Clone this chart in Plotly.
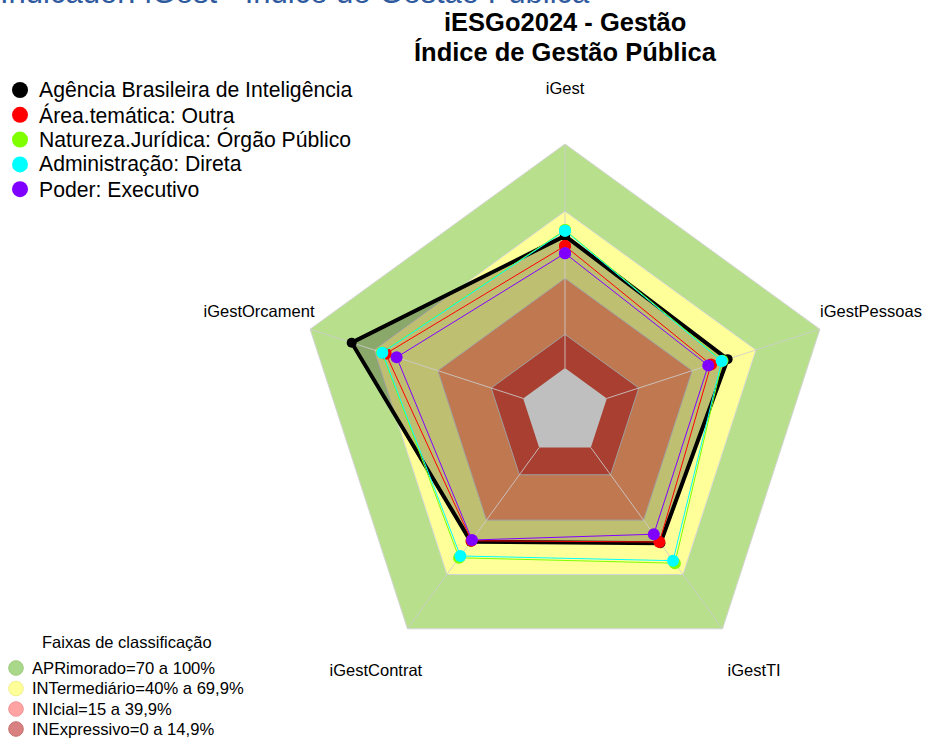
import plotly.graph_objects as go

# ---------------- data ----------------
categorias = ["iGest", "iGestPessoas", "iGestTI", "iGestContrat", "iGestOrcament"]

serie_nomes = [
    "Agência Brasileira de Inteligência",
    "Área.temática: Outra",
    "Natureza.Jurídica: Órgão Público",
    "Administração: Direta",
    "Poder: Executivo",
]
abin = [59.0, 56.7, 52.8, 51.9, 80.5]
area_outra = [54.5, 48.9, 52.1, 51.4, 64.5]
natureza = [61.6, 54.3, 63.8, 60.8, 66.3]
administracao = [61.3, 53.9, 62.4, 59.8, 66.1]
poder = [51.2, 47.6, 47.8, 51.0, 59.4]
serie_valores = [abin, area_outra, natureza, administracao, poder]
serie_cores = ["#000000", "#FF0000", "#7FFF00", "#00FFFF", "#8000FF"]

faixa_titulo = "Faixas de classificação"
faixa_nomes = [
    "APRimorado=70 a 100%",
    "INTermediário=40% a 69,9%",
    "INIcial=15 a 39,9%",
    "INExpressivo=0 a 14,9%",
]
faixa_limites = [100, 70, 40, 15, 0]
faixa_cores_fundo = ["#B8E08C", "#FFFF99", "#FFA06B", "#E05540", "#FFFFFF"]
faixa_cores_legenda = ["#A9D88A", "#FFFF99", "#FFA3A3", "#D98080"]
faixa_bordas_legenda = ["#9CCB7E", "#F0F08C", "#F09595", "#C87070"]

titulo_l1 = "<b>iESGo2024 - Gestão</b>"
titulo_l2 = "<b>Índice de Gestão Pública</b>"
titulo_topo = "Indicador: iGest - Índice de Gestão Pública"

# ---------------- layout geometry ----------------
W, H = 925, 740
cx, cy = 565, 412          # centre of the radar, px from top-left
px_per_unit = 2.24         # radial scale
inner_px = 44              # radius at value 0
r_min = -inner_px / px_per_unit
r_max = 126
R_tot = (r_max - r_min) * px_per_unit
label_r = 124

FONT = "Liberation Sans, Arial, sans-serif"


def close(v):
    return list(v) + [v[0]]


theta_closed = close(categorias)

fig = go.Figure()

# classification bands
for lim, col in zip(faixa_limites, faixa_cores_fundo):
    fig.add_trace(go.Scatterpolar(
        r=[lim] * len(theta_closed), theta=theta_closed, mode="lines",
        fill="toself", fillcolor=col,
        line=dict(color="#D4D4D4" if lim > 0 else col, width=1 if lim > 0 else 0),
        showlegend=False, hoverinfo="skip",
    ))

# fill of the main series
fig.add_trace(go.Scatterpolar(
    r=close(abin), theta=theta_closed, mode="none", fill="toself",
    fillcolor="rgba(0,0,0,0.25)", showlegend=False, hoverinfo="skip",
))

# spokes
for c in categorias:
    fig.add_trace(go.Scatterpolar(
        r=[0, 100], theta=[c, c], mode="lines",
        line=dict(color="rgba(205,205,205,0.85)", width=1),
        showlegend=False, hoverinfo="skip",
    ))

# series lines
for i, (nome, vals, cor) in enumerate(zip(serie_nomes, serie_valores, serie_cores)):
    fig.add_trace(go.Scatterpolar(
        r=close(vals), theta=theta_closed, mode="lines+markers",
        line=dict(color=cor, width=4 if i == 0 else 1),
        marker=dict(color=cor, size=10 if i == 0 else 12),
        name=nome, showlegend=False,
    ))

# axis labels
fig.add_trace(go.Scatterpolar(
    r=[label_r] * len(categorias), theta=categorias, mode="text",
    text=categorias, textposition="middle center",
    textfont=dict(family=FONT, size=16.5, color="#000000"),
    cliponaxis=False, showlegend=False, hoverinfo="skip",
))

annotations = [
    dict(text=titulo_l1, x=cx / W, y=1 - 22 / H, xref="paper", yref="paper",
         xanchor="center", yanchor="middle", showarrow=False,
         font=dict(family=FONT, size=25.5, color="#000000")),
    dict(text=titulo_l2, x=cx / W, y=1 - 52 / H, xref="paper", yref="paper",
         xanchor="center", yanchor="middle", showarrow=False,
         font=dict(family=FONT, size=25.5, color="#000000")),
    dict(text=titulo_topo, x=0, y=1, xref="paper", yref="paper",
         xanchor="left", yanchor="middle", xshift=-2, yshift=8, showarrow=False,
         font=dict(family=FONT, size=31, color="#2F5A9E")),
]
shapes = []

# legend of series (manual, top-left)
leg1_y = [90, 114.8, 139.6, 164.4, 189.2]
for nome, cor, yy in zip(serie_nomes, serie_cores, leg1_y):
    annotations.append(dict(
        text=nome, x=37 / W, y=1 - yy / H, xref="paper", yref="paper",
        xanchor="left", yanchor="middle", showarrow=False,
        font=dict(family=FONT, size=21.2, color="#000000")))
    shapes.append(dict(type="circle", xref="paper", yref="paper",
                       x0=(20 - 8) / W, x1=(20 + 8) / W,
                       y0=1 - (yy + 8) / H, y1=1 - (yy - 8) / H,
                       fillcolor=cor, line=dict(color=cor, width=0)))

# legend of bands (manual, bottom-left)
annotations.append(dict(
    text=faixa_titulo, x=127 / W, y=1 - 642 / H, xref="paper", yref="paper",
    xanchor="center", yanchor="middle", showarrow=False,
    font=dict(family=FONT, size=16.5, color="#000000")))
leg2_y = [668, 688.5, 709, 729]
for nome, cor, borda, yy in zip(faixa_nomes, faixa_cores_legenda, faixa_bordas_legenda, leg2_y):
    annotations.append(dict(
        text=nome, x=30 / W, y=1 - yy / H, xref="paper", yref="paper",
        xanchor="left", yanchor="middle", showarrow=False,
        font=dict(family=FONT, size=16.6, color="#000000")))
    shapes.append(dict(type="circle", xref="paper", yref="paper",
                       x0=(16 - 7.3) / W, x1=(16 + 7.3) / W,
                       y0=1 - (yy + 7.3) / H, y1=1 - (yy - 7.3) / H,
                       fillcolor=cor, line=dict(color=borda, width=1)))

fig.update_layout(
    width=W, height=H,
    margin=dict(l=0, r=0, t=0, b=0),
    paper_bgcolor="white", plot_bgcolor="white",
    font=dict(family=FONT, color="#000000"),
    showlegend=False,
    polar=dict(
        domain=dict(x=[(cx - R_tot) / W, (cx + R_tot) / W],
                    y=[(H - cy - R_tot) / H, (H - cy + R_tot) / H]),
        bgcolor="rgba(0,0,0,0)",
        radialaxis=dict(range=[r_min, r_max], visible=False, showgrid=False),
        angularaxis=dict(rotation=90, direction="clockwise", visible=False,
                         showgrid=False, showline=False, showticklabels=False),
    ),
    annotations=annotations,
    shapes=shapes,
)

fig.write_html(
    "out.html",
    config={"displayModeBar": False},
    post_script="document.body.style.margin='0';document.body.style.padding='0';",
)
